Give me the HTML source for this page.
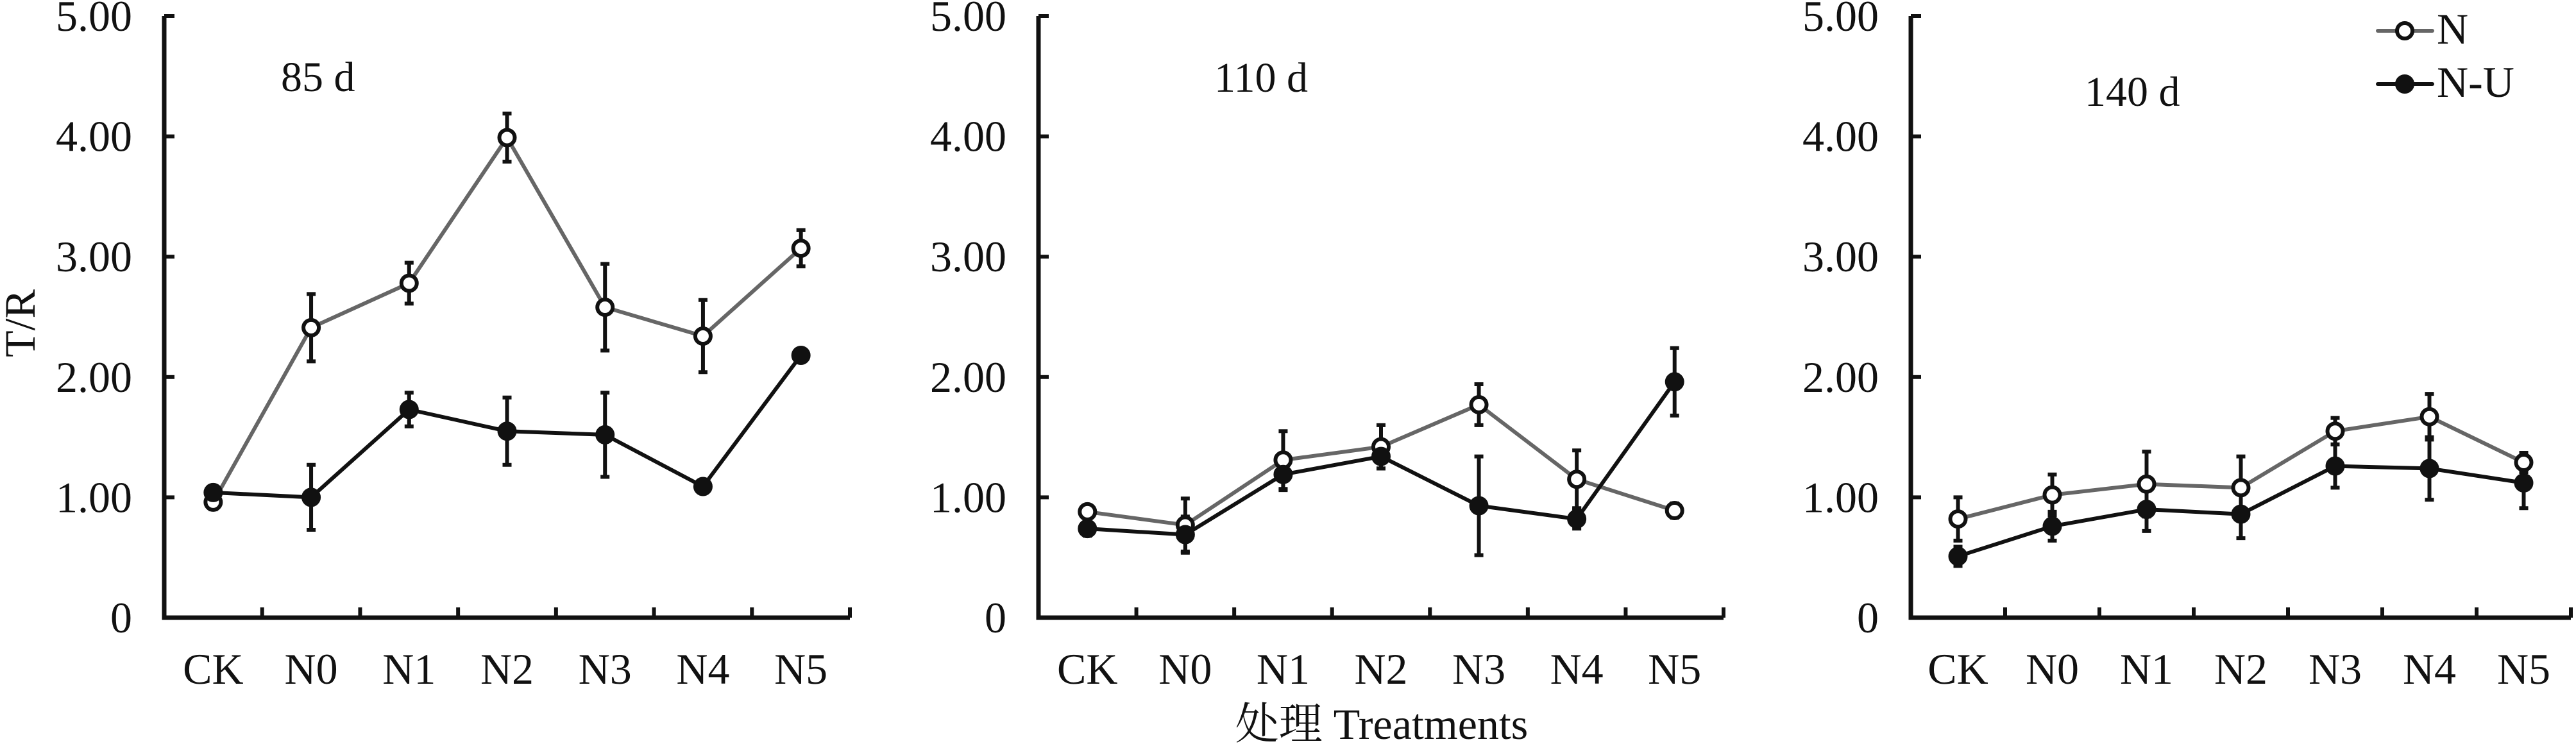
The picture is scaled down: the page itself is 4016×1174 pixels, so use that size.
<!DOCTYPE html>
<html><head><meta charset="utf-8"><style>
html,body{margin:0;padding:0;background:#fff;}
svg{display:block;}
svg text{font-family:"Liberation Serif","Noto Serif CJK SC",serif;fill:#111;}
</style></head><body>
<svg id="chart" width="4016" height="1174" viewBox="0 0 4016 1174" xmlns="http://www.w3.org/2000/svg" font-family="'Liberation Serif','Noto Serif CJK SC',serif"></svg>
<script>
const categories = ["CK","N0","N1","N2","N3","N4","N5"];
const panelTitles = ["85 d","110 d","140 d"];
const yTickValues = [0,1,2,3,4,5];
const yTickLabels = ["0","1.00","2.00","3.00","4.00","5.00"];
const p1N = [0.96,2.41,2.78,3.99,2.58,2.34,3.07];
const p1NErr = [0.06,0.28,0.17,0.20,0.36,0.30,0.15];
const p1NU = [1.04,1.00,1.73,1.55,1.52,1.09,2.18];
const p1NUErr = [0.03,0.27,0.14,0.28,0.35,0.05,0.03];
const p2N = [0.88,0.77,1.31,1.42,1.77,1.15,0.89];
const p2NErr = [0.03,0.22,0.24,0.18,0.17,0.24,0.06];
const p2NU = [0.74,0.69,1.19,1.34,0.93,0.82,1.96];
const p2NUErr = [0.06,0.15,0.13,0.10,0.41,0.08,0.28];
const p3N = [0.82,1.02,1.11,1.08,1.55,1.67,1.29];
const p3NErr = [0.18,0.17,0.27,0.26,0.11,0.19,0.08];
const p3NU = [0.51,0.76,0.90,0.86,1.26,1.24,1.12];
const p3NUErr = [0.08,0.12,0.18,0.20,0.18,0.26,0.21];

const NS="http://www.w3.org/2000/svg";
const svg=document.getElementById('chart');
function mk(tag,attrs,parent){const e=document.createElementNS(NS,tag);for(const k in attrs)e.setAttribute(k,attrs[k]);(parent||svg).appendChild(e);return e;}

const panels=[
 {x0:256,w:1069,title:[438,142],N:p1N,NE:p1NErr,U:p1NU,UE:p1NUErr},
 {x0:1619,w:1068,title:[1893,143],N:p2N,NE:p2NErr,U:p2NU,UE:p2NUErr},
 {x0:2979,w:1029,title:[3250,165],N:p3N,NE:p3NErr,U:p3NU,UE:p3NUErr}
];
const Y0=963, YT=25, YMAX=5;
function yScale(v){return Y0-(v/YMAX)*(Y0-YT);}

panels.forEach((p,pi)=>{
 const g=mk('g',{});
 
 
 const step=p.w/categories.length;
 const xScale=i=>p.x0+step*(i+0.5);
 const ax=mk('path',{d:`M${p.x0},${YT} V${Y0} H${p.x0+p.w}`,fill:'none',stroke:'#111','stroke-width':7},g);
 
 
 for(let k=1;k<=categories.length;k++){
  const t=mk('line',{x1:p.x0+step*k,x2:p.x0+step*k,y1:Y0,y2:Y0-16,stroke:'#111','stroke-width':6},g);
  
  
 }
 yTickValues.forEach((v,i)=>{
  const y=yScale(v);
  const t=mk('line',{x1:p.x0,x2:p.x0+16,y1:y,y2:y,stroke:'#111','stroke-width':6},g);
  
  
  const l=mk('text',{x:p.x0-50,y:y+23,'text-anchor':'end','font-size':68},g);
  l.textContent=yTickLabels[i];
  
  
 });
 categories.forEach((c,i)=>{
  const l=mk('text',{x:xScale(i),y:1066,'text-anchor':'middle','font-size':68},g);
  l.textContent=c;
  
  
 });
 const tt=mk('text',{x:p.title[0],y:p.title[1],'font-size':66},g);
 tt.textContent=panelTitles[pi];
 
 
 const series=[{v:p.N,e:p.NE,col:'#666',fill:'#fff',name:'n'},{v:p.U,e:p.UE,col:'#111',fill:'#111',name:'n-u'}];
 series.forEach(s=>{
  const pts=s.v.map((v,i)=>xScale(i)+','+yScale(v)).join(' ');
  const ln=mk('polyline',{points:pts,fill:'none',stroke:s.col,'stroke-width':6},g);
  
  
 });
 series.forEach(s=>{
  s.v.forEach((v,i)=>{
   const x=xScale(i),yt=yScale(v+s.e[i]),yb=yScale(v-s.e[i]);
   const eb=mk('path',{d:`M${x},${yt} V${yb} M${x-7},${yt} H${x+7} M${x-7},${yb} H${x+7}`,stroke:'#111','stroke-width':6,fill:'none'},g);
   
   
  });
 });
 series.forEach(s=>{
  s.v.forEach((v,i)=>{
   const c=mk('circle',{cx:xScale(i),cy:yScale(v),r:s.name==='n'?12:14,fill:s.fill,stroke:'#111','stroke-width':s.name==='n'?6:2},g);
   
   
  });
 });
});

const yt=mk('text',{x:0,y:0,'text-anchor':'middle','font-size':68,transform:'translate(54,504) rotate(-90)'});
yt.textContent='T/R';


const xt=mk('text',{x:2154,y:1152,'text-anchor':'middle','font-size':68});
xt.textContent='处理 Treatments';


const lg=mk('g',{});


[['N',48,'#666','#fff'],['N-U',131,'#111','#111']].forEach(([lab,y,col,fill])=>{
 const e=mk('g',{},lg);
 
 
 mk('line',{x1:3707,x2:3792,y1:y,y2:y,stroke:col,'stroke-width':6,'stroke-linecap':'round'},e);
 mk('circle',{cx:3749,cy:y,r:lab==='N'?12:14,fill:fill,stroke:'#111','stroke-width':lab==='N'?6:2},e);
 const t=mk('text',{x:3799,y:y+20,'font-size':68},e);
 t.textContent=lab;
});
</script>
</body></html>
